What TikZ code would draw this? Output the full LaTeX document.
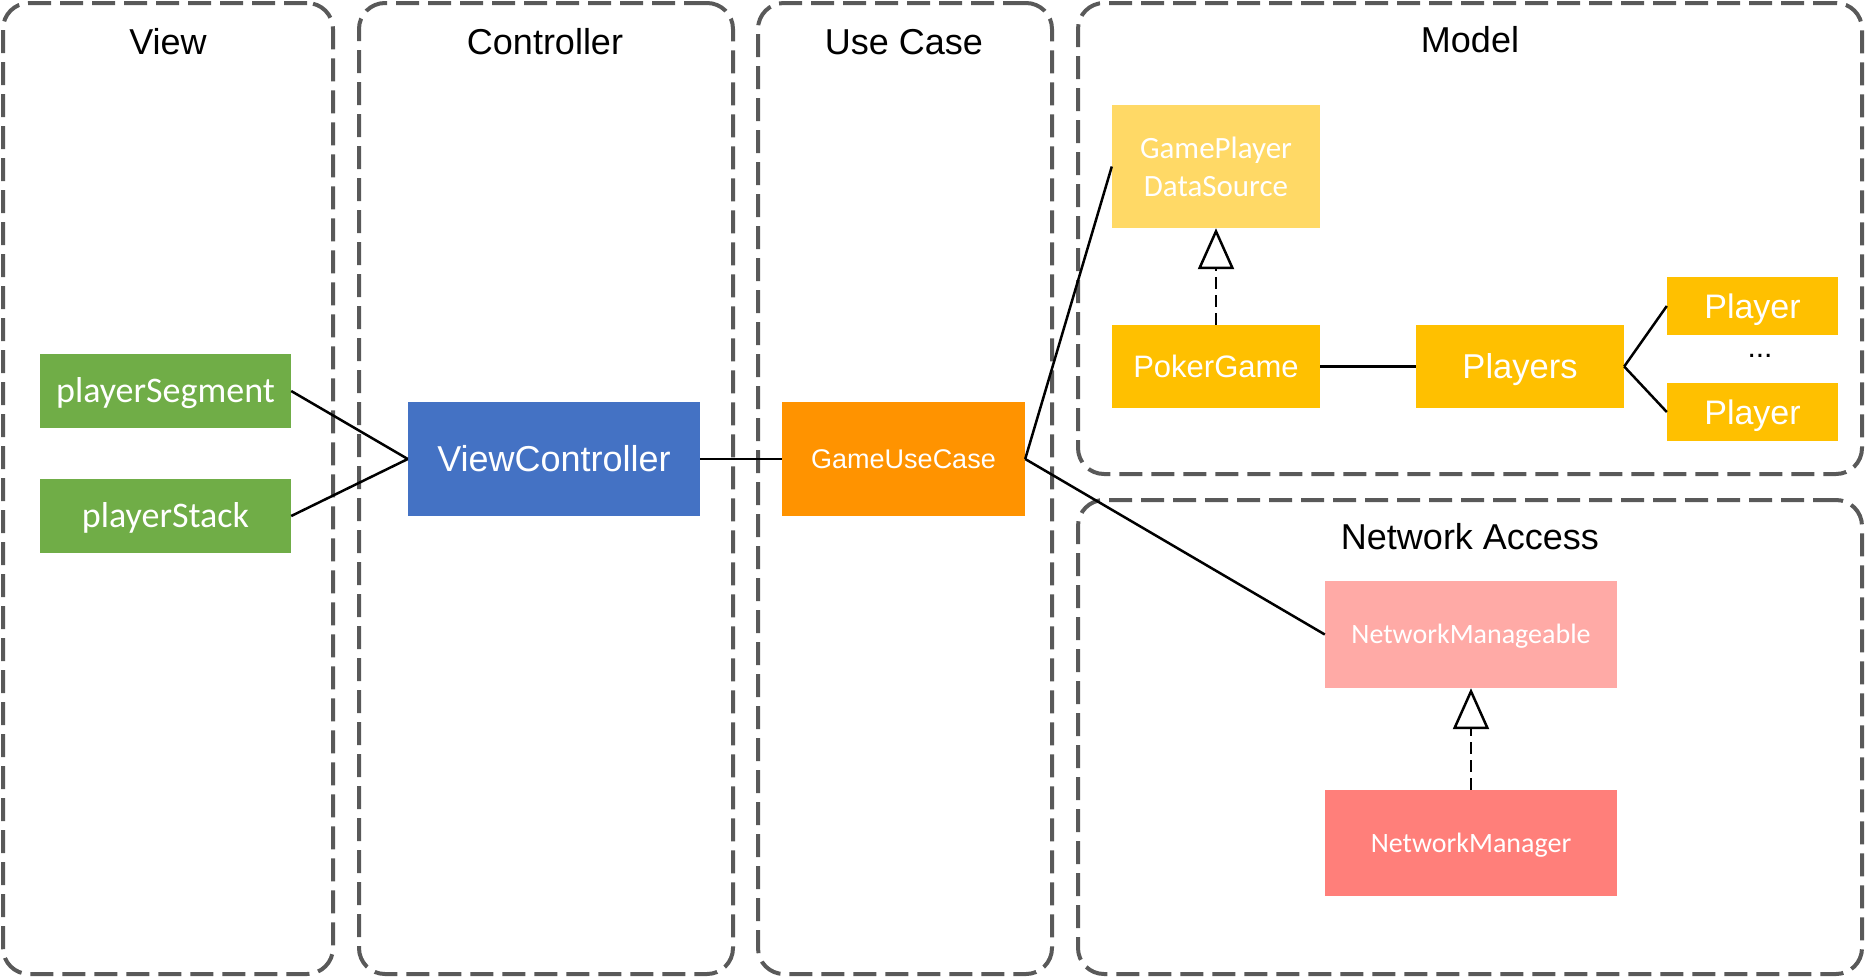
\documentclass[tikz,border=0pt]{standalone}
\usepackage{fontspec}
\setmainfont{Liberation Sans}
\newfontfamily\calfont{Carlito}
\usetikzlibrary{arrows.meta}
\definecolor{framegray}{HTML}{595959}
\definecolor{viewgreen}{HTML}{70AD47}
\definecolor{ctrlblue}{HTML}{4472C4}
\definecolor{caseorange}{HTML}{FF9300}
\definecolor{lightgold}{HTML}{FFD966}
\definecolor{gold}{HTML}{FFC000}
\definecolor{lightpink}{HTML}{FFAAA6}
\definecolor{salmon}{HTML}{FF7F7A}
\begin{document}
\begin{tikzpicture}[x=1pt, y=-1pt,
    frame/.style={draw=framegray, line width=4pt, dash pattern=on 23pt off 9pt, rounded corners=26pt, inner sep=0pt},
    title/.style={font=\fontsize{36}{42}\selectfont},
    box/.style={inner sep=0pt, text=white, align=center, text depth=0pt},
    link/.style={line width=2.5pt},
    realize/.style={line width=2.5pt, dash pattern=on 12pt off 6pt, -{Triangle[open, width=36pt, length=41pt]}}]
    \useasboundingbox (0,0) rectangle (1866,978);

    % Frames
    \node[frame, minimum width=330pt, minimum height=971pt] (viewframe) at (168,488.5) {};
    \node[frame, minimum width=374pt, minimum height=971pt] (ctrlframe) at (546,488.5) {};
    \node[frame, minimum width=294pt, minimum height=971pt] (caseframe) at (905,488.5) {};
    \node[frame, minimum width=784pt, minimum height=471pt] (modelframe) at (1470,238.5) {};
    \node[frame, minimum width=784pt, minimum height=474pt] (netframe) at (1470,737) {};

    \node[title] (viewtitle) at (168,42) {View};
    \node[title] (ctrltitle) at (545,42) {Controller};
    \node[title] (casetitle) at (904,42) {Use Case};
    \node[title] (modeltitle) at (1470,40) {Model};
    \node[title] (nettitle) at (1470,537) {Network Access};

    % View
    \node[box, fill=viewgreen, minimum width=251pt, minimum height=74pt, text height=23.2pt, font=\calfont\fontsize{36}{42}\selectfont] (segment) at (165.5,391) {playerSegment};
    \node[box, fill=viewgreen, minimum width=251pt, minimum height=74pt, text height=23.2pt, font=\calfont\fontsize{36}{42}\selectfont] (stack) at (165.5,516) {playerStack};

    % Controller and use case
    \node[box, fill=ctrlblue, minimum width=292pt, minimum height=114pt, text height=25.8pt, font=\fontsize{36}{42}\selectfont] (vc) at (554,459) {ViewController};
    \node[box, fill=caseorange, minimum width=243pt, minimum height=114pt, text height=19.3pt, font=\fontsize{27}{32}\selectfont] (usecase) at (903.5,459) {GameUseCase};

    % Model
    \node[inner sep=0pt, text=white, align=center, fill=lightgold, minimum width=208pt, minimum height=123pt, font=\calfont\fontsize{31}{38}\selectfont] (source) at (1216,166.5) {GamePlayer\\DataSource};
    \node[box, fill=gold, minimum width=208pt, minimum height=83pt, text height=22.2pt, font=\fontsize{31}{36}\selectfont] (poker) at (1216,366.5) {PokerGame};
    \node[box, fill=gold, minimum width=208pt, minimum height=83pt, text height=24.7pt, font=\fontsize{34.5}{40}\selectfont] (players) at (1520,366.5) {Players};
    \node[box, fill=gold, minimum width=171pt, minimum height=58pt, text height=24.3pt, font=\fontsize{34}{40}\selectfont] (playerA) at (1752.5,306) {Player};
    \node[box, fill=gold, minimum width=171pt, minimum height=58pt, text height=24.3pt, font=\fontsize{34}{40}\selectfont] (playerB) at (1752.5,412) {Player};
    \node[inner sep=0pt, font=\fontsize{30}{36}\selectfont] (dots) at (1760,356) {...};

    % Network access
    \node[box, fill=lightpink, minimum width=292pt, minimum height=107pt, text height=18pt, font=\calfont\fontsize{28}{34}\selectfont] (manageable) at (1471,634.5) {NetworkManageable};
    \node[box, fill=salmon, minimum width=292pt, minimum height=106pt, text height=18pt, font=\calfont\fontsize{28}{34}\selectfont] (manager) at (1471,843) {NetworkManager};

    % Connectors
    \draw[link] (segment.east) -- (vc.west);
    \draw[link] (stack.east) -- (vc.west);
    \draw[link] (vc.east) -- (usecase.west);
    \draw[link] (usecase.east) -- (source.west);
    \draw[link] (usecase.east) -- (manageable.west);
    \draw[link] (poker.east) -- (players.west);
    \draw[link] (players.east) -- (playerA.west);
    \draw[link] (players.east) -- (playerB.west);

    % Realizations
    \draw[realize] (poker.north) -- (source.south);
    \draw[realize] (manager.north) -- (manageable.south);
\end{tikzpicture}
\end{document}
